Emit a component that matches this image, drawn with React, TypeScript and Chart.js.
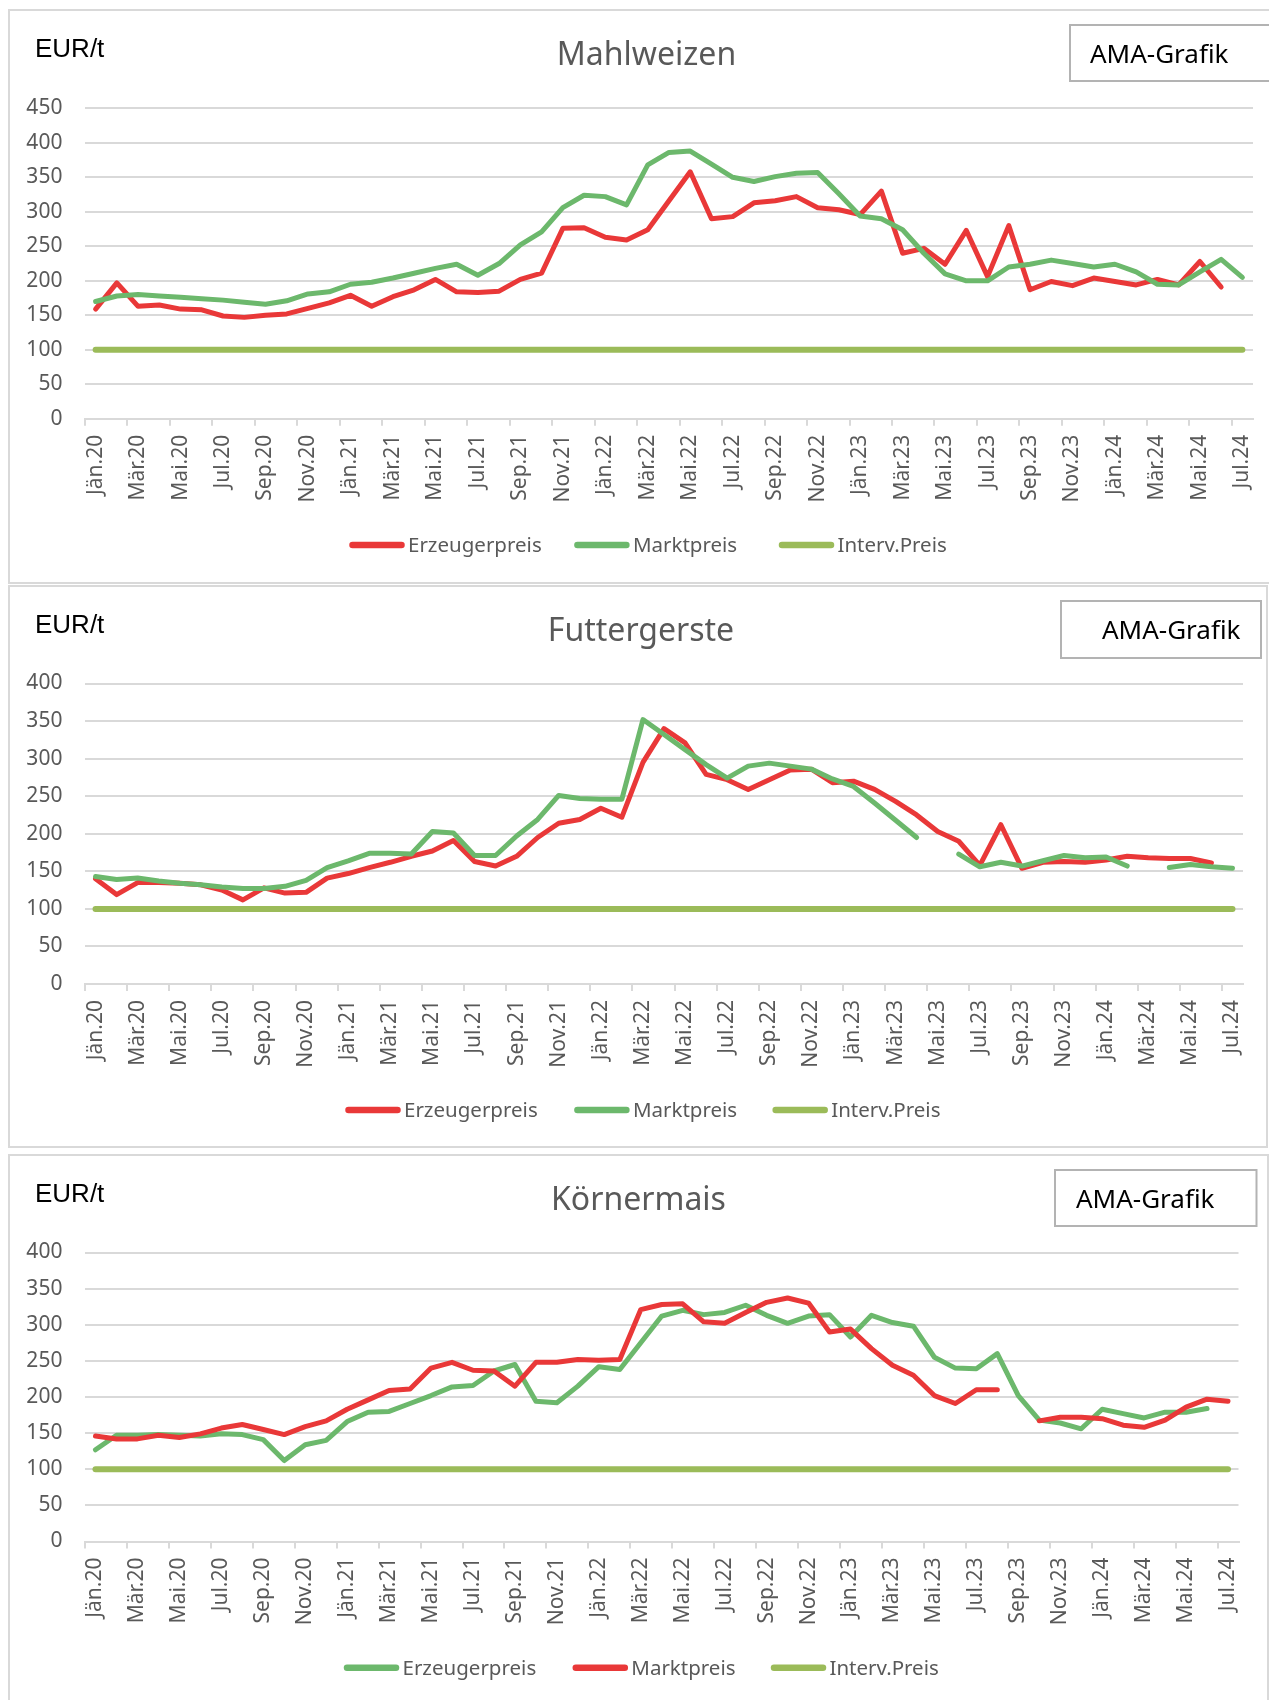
import { useEffect, useRef } from 'react';
import { Chart, registerables } from 'chart.js';
Chart.register(...registerables);

const months = [
  'Jän.20','Feb.20','Mär.20','Apr.20','Mai.20','Jun.20','Jul.20','Aug.20','Sep.20','Okt.20','Nov.20','Dez.20',
  'Jän.21','Feb.21','Mär.21','Apr.21','Mai.21','Jun.21','Jul.21','Aug.21','Sep.21','Okt.21','Nov.21','Dez.21',
  'Jän.22','Feb.22','Mär.22','Apr.22','Mai.22','Jun.22','Jul.22','Aug.22','Sep.22','Okt.22','Nov.22','Dez.22',
  'Jän.23','Feb.23','Mär.23','Apr.23','Mai.23','Jun.23','Jul.23','Aug.23','Sep.23','Okt.23','Nov.23','Dez.23',
  'Jän.24','Feb.24','Mär.24','Apr.24','Mai.24','Jun.24','Jul.24',
];

const yTicksStep = 50;

// Mahlweizen
const mahlErzeugerpreis = [159,197,163,165,159,158,149,147,150,152,160,168,179,163,177,187,202,184,183,185,202,211,276,277,263,259,274,316,358,290,293,313,316,322,306,303,296,330,240,247,224,273,206,280,187,199,193,204,199,194,202,194,228,191,null];
const mahlMarktpreis = [170,178,180,178,176,174,172,169,166,171,181,184,195,198,204,211,218,224,208,225,252,271,306,324,322,310,368,386,388,369,350,344,351,356,357,326,294,290,274,240,210,200,200,220,224,230,225,220,224,213,195,194,213,231,205];
const mahlInterv = [100,100,100,100,100,100,100,100,100,100,100,100,100,100,100,100,100,100,100,100,100,100,100,100,100,100,100,100,100,100,100,100,100,100,100,100,100,100,100,100,100,100,100,100,100,100,100,100,100,100,100,100,100,100,100];

// Futtergerste
const futterErzeugerpreis = [140,119,135,135,134,132,125,112,128,121,122,141,147,155,162,170,177,191,163,157,170,195,214,219,234,222,295,340,321,279,272,259,272,285,286,268,270,259,243,225,203,190,158,212,154,162,163,162,165,170,168,167,167,161,null];
const futterMarktpreis = [143,139,141,137,134,132,129,127,127,130,138,155,164,174,174,173,203,201,171,171,197,219,251,247,246,246,352,332,312,292,274,290,294,290,286,273,263,241,218,195,null,173,156,162,157,164,171,168,169,157,null,155,159,156,154];
const futterInterv = [100,100,100,100,100,100,100,100,100,100,100,100,100,100,100,100,100,100,100,100,100,100,100,100,100,100,100,100,100,100,100,100,100,100,100,100,100,100,100,100,100,100,100,100,100,100,100,100,100,100,100,100,100,100,100];

// Körnermais
const maisErzeugerpreis = [127,147,147,148,147,146,149,148,141,112,134,140,166,179,180,191,202,214,216,236,245,194,192,215,242,238,275,312,320,314,317,327,313,302,312,314,283,313,303,298,255,240,239,260,202,168,164,156,183,177,171,179,179,184,null];
const maisMarktpreis = [146,142,142,147,144,149,157,162,155,148,159,167,183,196,209,211,240,248,237,236,215,248,248,252,251,252,321,328,329,304,302,317,331,337,330,290,294,267,244,230,202,191,210,210,null,167,172,172,170,161,158,168,186,197,194];
const maisInterv = [100,100,100,100,100,100,100,100,100,100,100,100,100,100,100,100,100,100,100,100,100,100,100,100,100,100,100,100,100,100,100,100,100,100,100,100,100,100,100,100,100,100,100,100,100,100,100,100,100,100,100,100,100,100,100];

const GRID = '#d9d9d9';
const TEXT = '#595959';
const RED = '#E93838';
const GREEN = '#6CB86C';
const OLIVE = '#9BBB59';
const FONT = "'Noto Sans', 'Open Sans', sans-serif";
const CANVAS_W = 1300;

type Panel = {
  box: { left: number; top: number; width: number; height: number };
  chartTop: number; chartBottom: number; chartRight: number; yMax: number;
  title: string; titleX: number; titleBase: number; eurBase: number;
  ama: { x: number; y: number; w: number; h: number; tx: number; tb: number };
  legendY: number; legendXs: number[];
  series: { label: string; data: (number | null)[]; color: string; width: number; order: number }[];
};

const panels: Panel[] = [
  {
    box: { left: 8, top: 9, width: 1320, height: 575 },
    chartTop: 108.3, chartBottom: 418.8, chartRight: 1253, yMax: 450,
    title: 'Mahlweizen', titleX: 646.5, titleBase: 65, eurBase: 56.5,
    ama: { x: 1070, y: 25, w: 300, h: 56, tx: 1090, tb: 63 },
    legendY: 545, legendXs: [349.5, 574.4, 779],
    series: [
      { label: 'Erzeugerpreis', data: mahlErzeugerpreis, color: RED, width: 5, order: 2 },
      { label: 'Marktpreis', data: mahlMarktpreis, color: GREEN, width: 5, order: 1 },
      { label: 'Interv.Preis', data: mahlInterv, color: OLIVE, width: 6, order: 0 },
    ],
  },
  {
    box: { left: 8, top: 585, width: 1260, height: 563 },
    chartTop: 683.5, chartBottom: 984, chartRight: 1243, yMax: 400,
    title: 'Futtergerste', titleX: 641, titleBase: 640.5, eurBase: 632.5,
    ama: { x: 1061, y: 601, w: 200, h: 57, tx: 1102, tb: 639.3 },
    legendY: 1110, legendXs: [345.5, 574.4, 772.7],
    series: [
      { label: 'Erzeugerpreis', data: futterErzeugerpreis, color: RED, width: 5, order: 2 },
      { label: 'Marktpreis', data: futterMarktpreis, color: GREEN, width: 5, order: 1 },
      { label: 'Interv.Preis', data: futterInterv, color: OLIVE, width: 6, order: 0 },
    ],
  },
  {
    box: { left: 8, top: 1154, width: 1261, height: 600 },
    chartTop: 1252.5, chartBottom: 1541.5, chartRight: 1238.5, yMax: 400,
    title: 'Körnermais', titleX: 638.5, titleBase: 1210, eurBase: 1201.5,
    ama: { x: 1055, y: 1170, w: 201.5, h: 56, tx: 1076, tb: 1207.7 },
    legendY: 1667.7, legendXs: [344, 572.8, 771],
    series: [
      { label: 'Erzeugerpreis', data: maisErzeugerpreis, color: GREEN, width: 5, order: 2 },
      { label: 'Marktpreis', data: maisMarktpreis, color: RED, width: 5, order: 1 },
      { label: 'Interv.Preis', data: maisInterv, color: OLIVE, width: 6, order: 0 },
    ],
  },
];

function PanelChart({ p }: { p: Panel }) {
  const ref = useRef<HTMLCanvasElement | null>(null);
  const canvasTop = p.box.top;
  const canvasH = Math.min(p.box.height, 1700 - p.box.top);

  useEffect(() => {
    if (!ref.current) return;
    const decor = {
      id: 'decor',
      afterDraw(chart: any) {
        const ctx = chart.ctx as CanvasRenderingContext2D;
        const oy = canvasTop;
        ctx.save();
        ctx.textBaseline = 'alphabetic';
        ctx.fillStyle = '#000';
        ctx.font = "26px 'Liberation Sans', Arial, sans-serif";
        ctx.textAlign = 'left';
        ctx.fillText('EUR/t', 35, p.eurBase - oy);
        ctx.fillStyle = TEXT;
        ctx.font = `32px ${FONT}`;
        ctx.textAlign = 'center';
        ctx.fillText(p.title, p.titleX, p.titleBase - oy);
        ctx.fillStyle = '#fff';
        ctx.fillRect(p.ama.x, p.ama.y - oy, p.ama.w, p.ama.h);
        ctx.strokeStyle = '#b3b3b3';
        ctx.lineWidth = 2;
        ctx.strokeRect(p.ama.x, p.ama.y - oy, p.ama.w, p.ama.h);
        ctx.fillStyle = '#000';
        ctx.font = `26px ${FONT}`;
        ctx.textAlign = 'left';
        ctx.fillText('AMA-Grafik', p.ama.tx, p.ama.tb - oy);
        ctx.font = `20.5px ${FONT}`;
        ctx.textBaseline = 'middle';
        chart.data.datasets.forEach((ds: any, i: number) => {
          const x = p.legendXs[i];
          const y = p.legendY - oy;
          ctx.strokeStyle = ds.borderColor;
          ctx.lineWidth = 6.5;
          ctx.lineCap = 'round';
          ctx.beginPath();
          ctx.moveTo(x + 3, y);
          ctx.lineTo(x + 52, y);
          ctx.stroke();
          ctx.fillStyle = TEXT;
          ctx.fillText(ds.label, x + 58.5, y + 1);
        });
        ctx.restore();
      },
    };

    const chart = new Chart(ref.current, {
      type: 'line',
      data: {
        labels: months,
        datasets: p.series.map((s) => ({
          label: s.label,
          data: s.data,
          borderColor: s.color,
          backgroundColor: s.color,
          borderWidth: s.width,
          pointRadius: 0,
          pointHoverRadius: 0,
          tension: 0,
          spanGaps: false,
          fill: false,
          order: s.order,
          borderJoinStyle: 'round',
          borderCapStyle: 'round',
        })),
      },
      options: {
        responsive: false,
        animation: false,
        devicePixelRatio: 1,
        layout: {
          padding: {
            left: 0,
            top: p.chartTop - canvasTop,
            right: CANVAS_W - p.chartRight,
            bottom: 0,
          },
        },
        plugins: {
          legend: { display: false },
          tooltip: { enabled: false },
          title: { display: false },
        },
        scales: {
          x: {
            type: 'category',
            offset: true,
            grid: {
              offset: true,
              drawOnChartArea: false,
              drawTicks: true,
              tickLength: 7,
              lineWidth: 2,
              color: (c: any) => (c.index !== undefined && c.index % 2 === 0 ? GRID : 'rgba(0,0,0,0)'),
            },
            border: { display: true, color: GRID, width: 2 },
            ticks: {
              autoSkip: false,
              minRotation: 90,
              maxRotation: 90,
              padding: 9,
              color: TEXT,
              font: { family: FONT, size: 21 },
              callback: (_v: any, i: number) => (i % 2 === 0 ? months[i] : ''),
            },
            afterFit: (s: any) => {
              s.height = canvasH - (p.chartBottom - canvasTop);
            },
          },
          y: {
            min: 0,
            max: p.yMax,
            ticks: {
              stepSize: yTicksStep,
              padding: 22.6,
              color: TEXT,
              font: { family: FONT, size: 21 },
            },
            grid: { color: GRID, lineWidth: 2, drawTicks: false },
            border: { display: false },
            afterFit: (s: any) => {
              s.width = 85;
            },
          },
        },
      } as any,
      plugins: [decor],
    });

    return () => chart.destroy();
  }, []);

  return (
    <>
      <div
        style={{
          position: 'absolute',
          left: p.box.left,
          top: p.box.top,
          width: p.box.width,
          height: p.box.height,
          border: '2px solid #d9d9d9',
          boxSizing: 'border-box',
          background: '#fff',
        }}
      />
      <canvas
        ref={ref}
        width={CANVAS_W}
        height={canvasH}
        style={{ position: 'absolute', left: 0, top: canvasTop, width: CANVAS_W, height: canvasH }}
      />
    </>
  );
}

export default function App() {
  return (
    <div
      style={{
        position: 'absolute',
        left: 0,
        top: 0,
        width: 1269,
        height: 1700,
        overflow: 'hidden',
        background: '#fff',
      }}
    >
      {panels.map((p, i) => (
        <PanelChart key={i} p={p} />
      ))}
    </div>
  );
}
